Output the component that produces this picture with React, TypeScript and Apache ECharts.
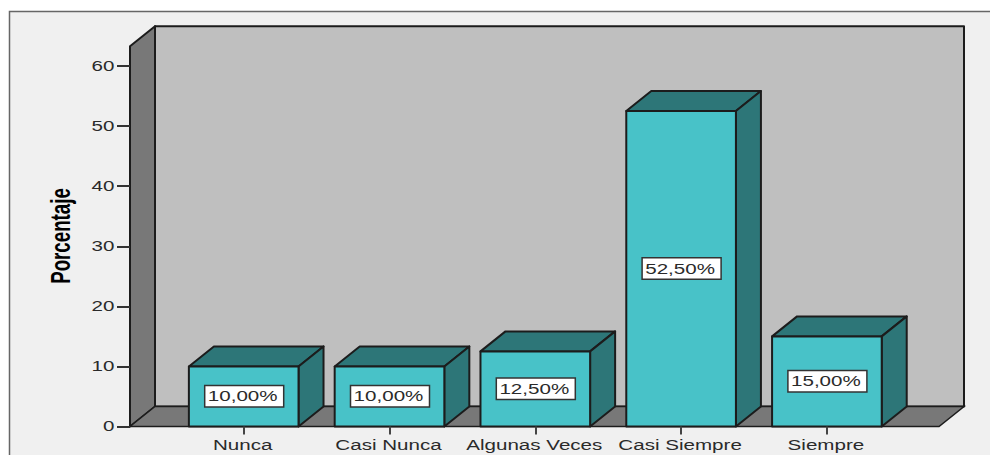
import React, { useEffect, useRef } from "react";
import * as echarts from "echarts";

const categories = ["Nunca", "Casi Nunca", "Algunas Veces", "Casi Siempre", "Siempre"];
const percentages = [10, 10, 12.5, 52.5, 15];
const barLabels = ["10,00%", "10,00%", "12,50%", "52,50%", "15,00%"];
const yTicks = [0, 10, 20, 30, 40, 50, 60];
const yTitle = "Porcentaje";

const FONT = '"Liberation Sans", Arial, sans-serif';
const STRETCH = 1.47;
const DX = 25;
const DY = -20;
const LINE = "#1c1c1c";
const FACE = "#48c2c8";
const SHADE = "#2d7678";
const WALL = "#bfbfbf";
const SIDE = "#787878";
const TXT = "#2a2a2a";
const GRID_LEFT = 170.8;
const GRID_W = 729;
const GRID_TOP = 66;
const GRID_BOTTOM = 28.5;
const AXIS_X = 130;
const FLOOR_RIGHT = 939;
const WALL_TOP_VALUE = 63.3;

function stretched(text: string, x: number, y: number, align: string, extra: any = {}) {
  return {
    type: "text",
    x,
    y,
    scaleX: STRETCH,
    z2: 20,
    style: {
      text,
      x: 0,
      y: 0,
      align,
      verticalAlign: "middle",
      font: `14px ${FONT}`,
      fill: TXT,
      ...extra,
    },
  };
}

function poly(points: number[][], fill: string, z2 = 1) {
  return {
    type: "polygon",
    z2,
    shape: { points },
    style: { fill, stroke: LINE, lineWidth: 2, lineJoin: "round" },
  };
}

function renderScene(_p: any, api: any) {
  const y0 = api.coord([0, 0])[1];
  const yTop = api.coord([0, WALL_TOP_VALUE])[1];
  const left = AXIS_X;
  const right = FLOOR_RIGHT;
  const children: any[] = [
    {
      type: "rect",
      z2: 0,
      shape: { x: 9.5, y: 11.5, width: 1100, height: 600 },
      style: { fill: "#f0f0f0", stroke: "#666666", lineWidth: 1.5 },
    },
    poly([[left + DX, yTop + DY], [right + DX, yTop + DY], [right + DX, y0 + DY], [left + DX, y0 + DY]], WALL),
    poly([[left, yTop], [left + DX, yTop + DY], [left + DX, y0 + DY], [left, y0]], SIDE, 2),
    {
      type: "polygon",
      z2: 2,
      shape: { points: [[left, y0], [left + DX, y0 + DY], [right + DX, y0 + DY], [right, y0]] },
      style: { fill: SIDE, stroke: LINE, lineWidth: 1.5 },
    },
    {
      type: "text",
      x: 61,
      y: 236,
      rotation: Math.PI / 2,
      scaleX: 1.17,
      scaleY: 1.7,
      z2: 20,
      style: {
        text: yTitle,
        x: 0,
        y: 0,
        align: "center",
        verticalAlign: "middle",
        font: `bold 16px ${FONT}`,
        fill: "#000000",
      },
    },
  ];
  yTicks.forEach((t) => {
    const y = api.coord([0, t])[1];
    children.push(stretched(String(t), AXIS_X - 15.5, y, "right"));
  });
  return { type: "group", children };
}

function renderBar(_p: any, api: any) {
  const i = api.value(0);
  const v = api.value(1);
  const [cx, yTop] = api.coord([i, v]);
  const [, y0] = api.coord([i, 0]);
  const w = api.size([1, 0])[0] * 0.752;
  const l = cx - w / 2;
  const r = cx + w / 2;
  const labelY = (yTop + y0) / 2;
  return {
    type: "group",
    children: [
      poly([[l, yTop], [l + DX, yTop + DY], [r + DX, yTop + DY], [r, yTop]], SHADE, 5),
      poly([[r, yTop], [r + DX, yTop + DY], [r + DX, y0 + DY], [r, y0]], SHADE, 5),
      poly([[l, yTop], [r, yTop], [r, y0], [l, y0]], FACE, 6),
      {
        type: "rect",
        z2: 10,
        shape: { x: cx - 39, y: labelY - 11, width: 79, height: 21.5 },
        style: { fill: "#ffffff", stroke: "#333333", lineWidth: 1.5 },
      },
      stretched(barLabels[i], cx - 1, labelY, "center"),
      stretched(categories[i], cx - 1, y0 + 18.5, "center"),
    ],
  };
}

export default function App() {
  const ref = useRef<HTMLDivElement>(null);
  useEffect(() => {
    document.body.style.margin = "0";
    const chart = echarts.init(ref.current!, undefined, { renderer: "svg" });
    chart.setOption({
      animation: false,
      backgroundColor: "#ffffff",
      grid: { left: GRID_LEFT, width: GRID_W, top: GRID_TOP, bottom: GRID_BOTTOM },
      xAxis: {
        type: "category",
        data: categories,
        z: 10,
        axisLine: { show: false },
        axisLabel: { show: false },
        axisTick: { show: true, alignWithLabel: true, length: 8, lineStyle: { color: "#444444", width: 2 } },
      },
      yAxis: {
        type: "value",
        min: 0,
        max: 60,
        interval: 10,
        offset: GRID_LEFT - AXIS_X,
        z: 10,
        axisLine: { show: false },
        axisLabel: { show: false },
        axisTick: { show: true, length: 13, lineStyle: { color: "#333333", width: 2 } },
        splitLine: { show: false },
      },
      series: [
        {
          type: "custom",
          coordinateSystem: "cartesian2d",
          z: 1,
          clip: false,
          silent: true,
          renderItem: renderScene,
          data: [[0, 0]],
        },
        {
          type: "custom",
          coordinateSystem: "cartesian2d",
          z: 3,
          clip: false,
          silent: true,
          renderItem: renderBar,
          encode: { x: 0, y: 1 },
          data: percentages.map((v, i) => [i, v]),
        },
      ],
    });
    return () => chart.dispose();
  }, []);
  return <div ref={ref} style={{ position: "absolute", left: 0, top: 0, width: 990, height: 455 }} />;
}
